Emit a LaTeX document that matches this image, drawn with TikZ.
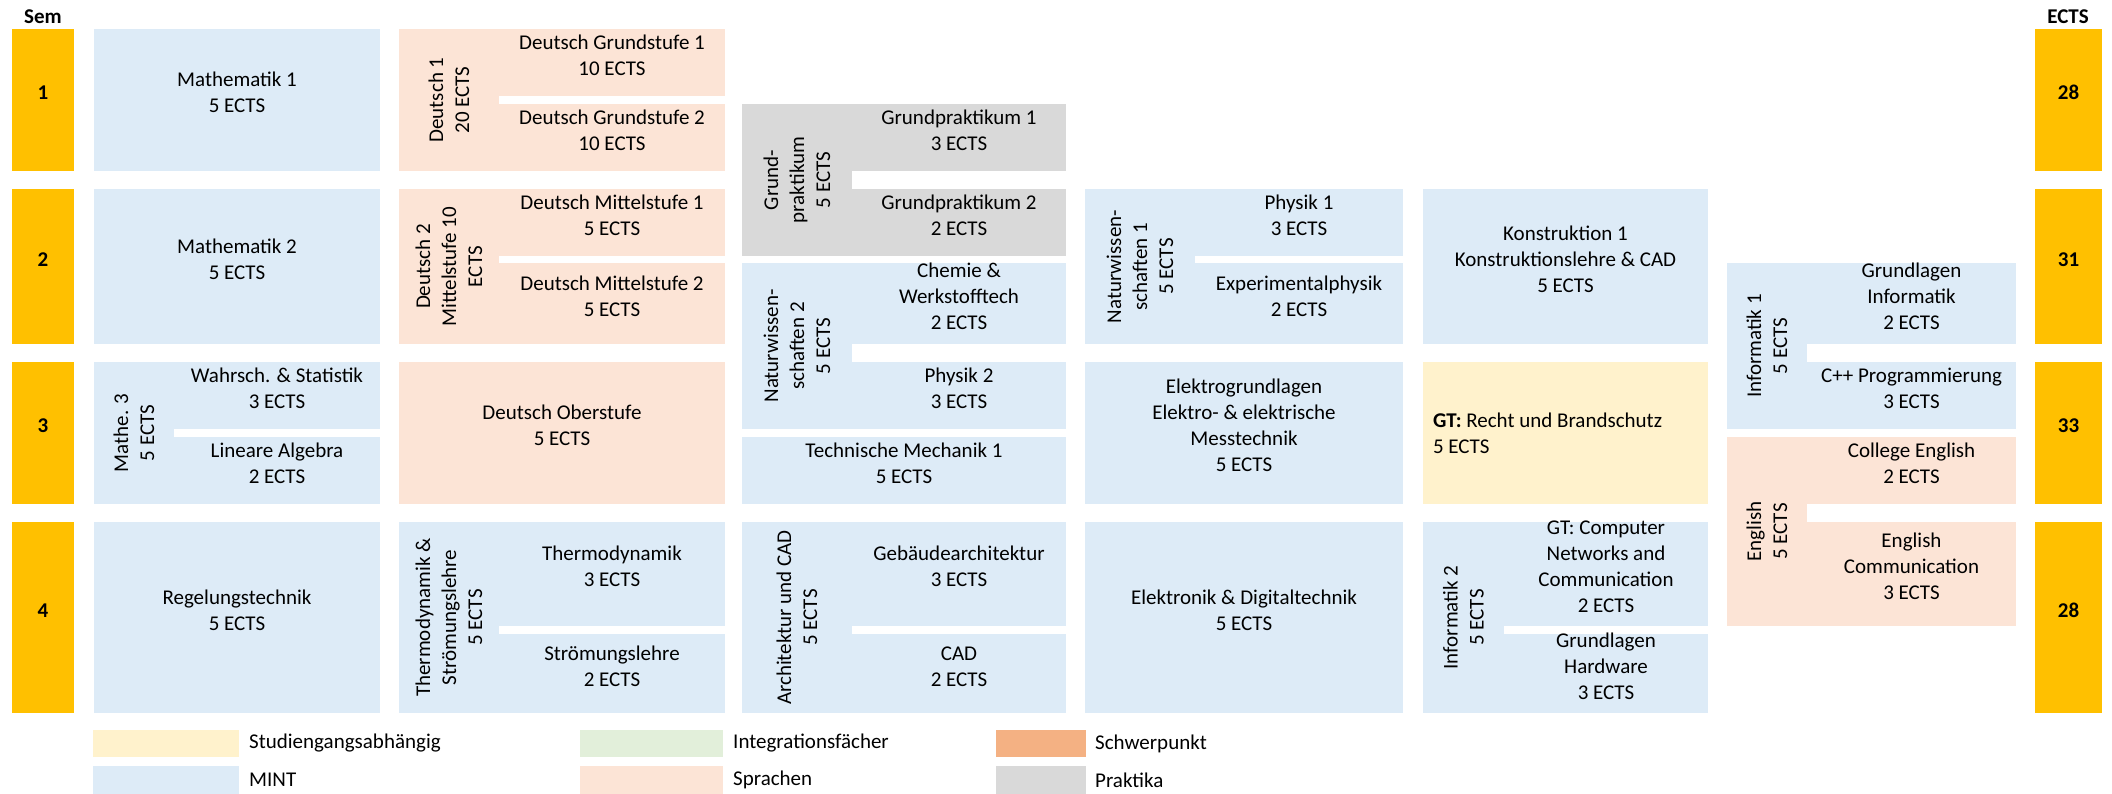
\documentclass[tikz,border=0pt]{standalone}
\usepackage{fontspec}
\setmainfont{Carlito}
\usetikzlibrary{fit,positioning}
\definecolor{gold}{HTML}{FFC000}
\definecolor{mint}{HTML}{DDEBF7}
\definecolor{lang}{HTML}{FCE4D6}
\definecolor{prak}{HTML}{D9D9D9}
\definecolor{stud}{HTML}{FFF2CC}
\definecolor{integ}{HTML}{E2EFDA}
\definecolor{focus}{HTML}{F4B183}
\tikzset{
  box/.style={inner sep=0pt,outer sep=0pt,align=center,
              font=\fontsize{21}{26}\selectfont},
  mintbox/.style={box,fill=mint},
  langbox/.style={box,fill=lang},
  prakbox/.style={box,fill=prak},
  studbox/.style={box,fill=stud},
  sembox/.style={box,fill=gold,font=\fontsize{21}{26}\selectfont\bfseries},
  turn/.style={rotate=90,align=center,inner sep=0pt,
               font=\fontsize{21}{26}\selectfont},
  head/.style={inner sep=0pt,font=\fontsize{21}{26}\selectfont\bfseries},
  swatch/.style={inner sep=0pt,outer sep=0pt},
  legtext/.style={inner sep=0pt,font=\fontsize{21}{26}\selectfont},
}
\begin{document}
\begin{tikzpicture}[x=1pt,y=-1pt]
    \useasboundingbox (0,0) rectangle (2112,794);
    \node[head] (semh) at (43,17) {Sem};
    \node[head] (ectsh) at (2068,17) {ECTS};
    \node[sembox,fit={(12,29) (74,171)}] (s1) {1};
    \node[sembox,fit={(12,189) (74,344)}] (s2) {2};
    \node[sembox,fit={(12,362) (74,504)}] (s3) {3};
    \node[sembox,fit={(12,522) (74,713)}] (s4) {4};
    \node[sembox,fit={(2035,29) (2102,171)}] (e1) {28};
    \node[sembox,fit={(2035,189) (2102,344)}] (e2) {31};
    \node[sembox,fit={(2035,362) (2102,504)}] (e3) {33};
    \node[sembox,fit={(2035,522) (2102,713)}] (e4) {28};

    \node[mintbox,fit={(94,29) (380,171)}] (ma1) {Mathematik 1\\5 ECTS};
    \node[mintbox,fit={(94,189) (380,344)}] (ma2) {Mathematik 2\\5 ECTS};
    \node[mintbox,fit={(94,362) (174,504)}] (ma3) {};
    \node[turn] (ma3t) at (ma3) {Mathe. 3\\5 ECTS};
    \node[mintbox,fit={(174,362) (380,429)}] (ws) {Wahrsch. \& Statistik\\3 ECTS};
    \node[mintbox,fit={(174,437) (380,504)}] (la) {Lineare Algebra\\2 ECTS};
    \node[mintbox,fit={(94,522) (380,713)}] (rt) {Regelungstechnik\\5 ECTS};

    \node[langbox,fit={(399,29) (499,171)}] (de1) {};
    \node[turn] (de1t) at (de1) {Deutsch 1\\20 ECTS};
    \node[langbox,fit={(499,29) (725,96)}] (dg1) {Deutsch Grundstufe 1\\10 ECTS};
    \node[langbox,fit={(499,104) (725,171)}] (dg2) {Deutsch Grundstufe 2\\10 ECTS};
    \node[langbox,fit={(399,189) (499,344)}] (de2) {};
    \node[turn] (de2t) at (de2) {Deutsch 2\\Mittelstufe 10\\ECTS};
    \node[langbox,fit={(499,189) (725,256)}] (dm1) {Deutsch Mittelstufe 1\\5 ECTS};
    \node[langbox,fit={(499,263) (725,344)}] (dm2) {Deutsch Mittelstufe 2\\5 ECTS};
    \node[langbox,fit={(399,362) (725,504)}] (dob) {Deutsch Oberstufe\\5 ECTS};
    \node[mintbox,fit={(399,522) (499,713)}] (th) {};
    \node[turn] (tht) at (th) {Thermodynamik \&\\Strömungslehre\\5 ECTS};
    \node[mintbox,fit={(499,522) (725,626)}] (td) {Thermodynamik\\3 ECTS};
    \node[mintbox,fit={(499,634) (725,713)}] (sl) {Strömungslehre\\2 ECTS};

    \node[prakbox,fit={(742,104) (852,256)}] (gp) {};
    \node[turn] (gpt) at (gp) {Grund-\\praktikum\\5 ECTS};
    \node[prakbox,fit={(852,104) (1066,171)}] (gp1) {Grundpraktikum 1\\3 ECTS};
    \node[prakbox,fit={(852,189) (1066,256)}] (gp2) {Grundpraktikum 2\\2 ECTS};
    \node[mintbox,fit={(742,263) (852,429)}] (nw2) {};
    \node[turn] (nw2t) at (nw2) {Naturwissen-\\schaften 2\\5 ECTS};
    \node[mintbox,fit={(852,263) (1066,344)}] (chw) {Chemie \&\\Werkstofftech\\2 ECTS};
    \node[mintbox,fit={(852,362) (1066,429)}] (ph2) {Physik 2\\3 ECTS};
    \node[mintbox,fit={(742,437) (1066,504)}] (tm) {Technische Mechanik 1\\5 ECTS};
    \node[mintbox,fit={(742,522) (852,713)}] (ar) {};
    \node[turn] (art) at (ar) {Architektur und CAD\\5 ECTS};
    \node[mintbox,fit={(852,522) (1066,626)}] (ga) {Gebäudearchitektur\\3 ECTS};
    \node[mintbox,fit={(852,634) (1066,713)}] (cad) {CAD\\2 ECTS};

    \node[mintbox,fit={(1085,189) (1195,344)}] (nw1) {};
    \node[turn] (nw1t) at (nw1) {Naturwissen-\\schaften 1\\5 ECTS};
    \node[mintbox,fit={(1195,189) (1403,256)}] (ph1) {Physik 1\\3 ECTS};
    \node[mintbox,fit={(1195,263) (1403,344)}] (exp) {Experimentalphysik\\2 ECTS};
    \node[mintbox,fit={(1085,362) (1403,504)}] (el) {Elektrogrundlagen\\Elektro- \& elektrische\\Messtechnik\\5 ECTS};
    \node[mintbox,fit={(1085,522) (1403,713)}] (ed) {Elektronik \& Digitaltechnik\\5 ECTS};

    \node[mintbox,fit={(1423,189) (1708,344)}] (ko) {Konstruktion 1\\Konstruktionslehre \& CAD\\5 ECTS};
    \node[studbox,fit={(1423,362) (1708,504)}] (gt) {};
    \node[box,anchor=west,align=left] (gtt) at ([xshift=10pt]gt.west)
      {\textbf{GT:} Recht und Brandschutz\\5 ECTS};
    \node[mintbox,fit={(1423,522) (1504,713)}] (in2) {};
    \node[turn] (in2t) at (in2) {Informatik 2\\5 ECTS};
    \node[mintbox,fit={(1504,522) (1708,626)}] (cn) {GT: Computer\\Networks and\\Communication\\2 ECTS};
    \node[mintbox,fit={(1504,634) (1708,713)}] (gh) {Grundlagen\\Hardware\\3 ECTS};

    \node[mintbox,fit={(1727,263) (1807,429)}] (in1) {};
    \node[turn] (in1t) at (in1) {Informatik 1\\5 ECTS};
    \node[mintbox,fit={(1807,263) (2016,344)}] (gi) {Grundlagen\\Informatik\\2 ECTS};
    \node[mintbox,fit={(1807,362) (2016,429)}] (cpp) {C++ Programmierung\\3 ECTS};
    \node[langbox,fit={(1727,437) (1807,626)}] (en) {};
    \node[turn] (ent) at (en) {English\\5 ECTS};
    \node[langbox,fit={(1807,437) (2016,504)}] (ce) {College English\\2 ECTS};
    \node[langbox,fit={(1807,522) (2016,626)}] (ec) {English\\Communication\\3 ECTS};

    \node[swatch,fill=stud,fit={(93,730) (239,757)}] (lg1) {};
    \node[legtext,right=10pt of lg1] (lg1t) {Studiengangsabhängig};
    \node[swatch,fill=mint,fit={(93,766) (239,794)}] (lg2) {};
    \node[legtext,right=10pt of lg2] (lg2t) {MINT};
    \node[swatch,fill=integ,fit={(580,730) (723,757)}] (lg3) {};
    \node[legtext,right=10pt of lg3] (lg3t) {Integrationsfächer};
    \node[swatch,fill=lang,fit={(580,766) (723,794)}] (lg4) {};
    \node[legtext,right=10pt of lg4] (lg4t) {Sprachen};
    \node[swatch,fill=focus,fit={(996,730) (1086,757)}] (lg5) {};
    \node[legtext,right=9pt of lg5] (lg5t) {Schwerpunkt};
    \node[swatch,fill=prak,fit={(996,766) (1086,794)}] (lg6) {};
    \node[legtext,right=9pt of lg6] (lg6t) {Praktika};
  \end{tikzpicture}
\end{document}
